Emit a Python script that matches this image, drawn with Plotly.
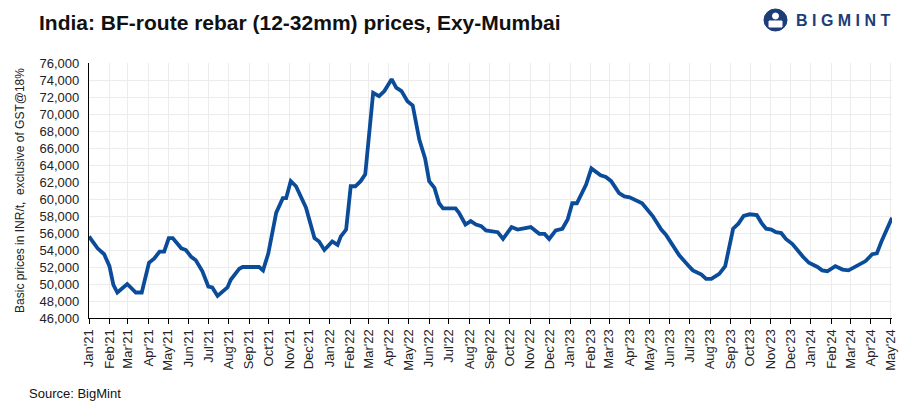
import plotly.graph_objects as go

dates = [
    "2021-01-01", "2021-01-14", "2021-01-24", "2021-02-01", "2021-02-07", "2021-02-13",
    "2021-02-28", "2021-03-13", "2021-03-22", "2021-04-02", "2021-04-10", "2021-04-18",
    "2021-04-25", "2021-05-02", "2021-05-08", "2021-05-21", "2021-05-28", "2021-06-05",
    "2021-06-12", "2021-06-22", "2021-07-01", "2021-07-07", "2021-07-15", "2021-07-30",
    "2021-08-04", "2021-08-17", "2021-08-22", "2021-09-16", "2021-09-22", "2021-09-30",
    "2021-10-12", "2021-10-22", "2021-10-27", "2021-11-03", "2021-11-11", "2021-11-26",
    "2021-12-09", "2021-12-16", "2021-12-24", "2022-01-05", "2022-01-13", "2022-01-18",
    "2022-01-26", "2022-02-02", "2022-02-09", "2022-02-17", "2022-02-24", "2022-03-08",
    "2022-03-17", "2022-03-25", "2022-04-05", "2022-04-12", "2022-04-20", "2022-04-29",
    "2022-05-07", "2022-05-17", "2022-05-26", "2022-06-01", "2022-06-09", "2022-06-16",
    "2022-06-22", "2022-07-11", "2022-07-16", "2022-07-26", "2022-08-03", "2022-08-11",
    "2022-08-19", "2022-08-26", "2022-09-13", "2022-09-21", "2022-10-04", "2022-10-13",
    "2022-11-02", "2022-11-15", "2022-11-23", "2022-11-30", "2022-12-10", "2022-12-20",
    "2022-12-28", "2023-01-04", "2023-01-11", "2023-01-25", "2023-02-02", "2023-02-16",
    "2023-02-24", "2023-03-04", "2023-03-16", "2023-03-24", "2023-04-01", "2023-04-08",
    "2023-04-20", "2023-05-06", "2023-05-19", "2023-05-26", "2023-06-05", "2023-06-15",
    "2023-06-30", "2023-07-06", "2023-07-19", "2023-07-26", "2023-08-03", "2023-08-15",
    "2023-08-24", "2023-09-05", "2023-09-13", "2023-09-21", "2023-09-30", "2023-10-11",
    "2023-10-18", "2023-10-25", "2023-11-02", "2023-11-09", "2023-11-17", "2023-11-24",
    "2023-12-04", "2023-12-12", "2023-12-20", "2023-12-29", "2024-01-11", "2024-01-18",
    "2024-01-26", "2024-02-07", "2024-02-18", "2024-02-27", "2024-03-09", "2024-03-24",
    "2024-04-03", "2024-04-10", "2024-04-17", "2024-05-03",
]
prices = [
    55600, 54200, 53500, 52100, 49900, 49000,
    50000, 49000, 49000, 52500, 53000, 53800,
    53800, 55400, 55400, 54200, 54000, 53200,
    52800, 51500, 49700, 49600, 48600, 49600,
    50500, 51800, 52000, 52000, 51600, 53600,
    58400, 60100, 60100, 62100, 61500, 59000,
    55400, 55000, 54000, 55000, 54600, 55600,
    56400, 61500, 61500, 62100, 62900, 72500,
    72100, 72700, 74100, 73100, 72700, 71500,
    71000, 67000, 64700, 62100, 61300, 59500,
    58900, 58900, 58400, 57000, 57400, 57000,
    56800, 56300, 56100, 55300, 56700, 56400,
    56700, 55900, 55900, 55300, 56300, 56500,
    57600, 59500, 59500, 61700, 63600, 62800,
    62600, 62100, 60700, 60300, 60200, 59900,
    59500, 58000, 56400, 55800, 54600, 53400,
    52100, 51600, 51100, 50600, 50600, 51200,
    52100, 56500, 57100, 58000, 58200, 58100,
    57200, 56500, 56400, 56100, 56000, 55300,
    54700, 53900, 53200, 52500, 52000, 51600,
    51500, 52100, 51700, 51600, 52100, 52700,
    53500, 53600, 55000, 57800,
]

title_text = "India: BF-route rebar (12-32mm) prices, Exy-Mumbai"
y_title = "Basic prices in INR/t,  exclusive of GST@18%"
source_text = "Source: BigMint"
brand_text = "B I G M I N T"
y_min, y_max, y_step = 46000, 76000, 2000
x_start, x_end = "2021-01-01", "2024-05-03"

navy = "#1d3d78"

fig = go.Figure()
fig.add_trace(go.Scatter(
    x=dates, y=prices, mode="lines",
    line=dict(color="#0a4c99", width=3.8),
    hoverinfo="x+y", showlegend=False,
))

fig.update_layout(
    width=913, height=409,
    margin=dict(l=81, r=29, t=55, b=99),
    plot_bgcolor="white", paper_bgcolor="white",
    font=dict(family="Liberation Sans, Arial, sans-serif", color="#222222", size=13),
    xaxis=dict(
        type="date", range=[x_start, x_end],
        dtick="M1", tick0="2021-01-01", tickformat="%b'%y", tickangle=-90,
        showgrid=True, gridcolor="#ececec", gridwidth=1,
        showline=True, linecolor="#000000", linewidth=1.2,
        ticks="outside", ticklen=5, tickcolor="#000000",
        tickfont=dict(size=13, color="#222222"),
        zeroline=False, automargin=False,
    ),
    yaxis=dict(
        range=[y_min, y_max], dtick=y_step, tick0=y_min,
        tickformat=",d",
        showgrid=True, gridcolor="#ececec", gridwidth=1,
        showline=True, linecolor="#000000", linewidth=1.2,
        ticks="", ticklabelstandoff=6,
        tickfont=dict(size=13, color="#222222"),
        title=dict(text=y_title, font=dict(size=12, color="#222222"), standoff=12),
        zeroline=False, automargin=False,
    ),
    annotations=[
        dict(text="<b>" + title_text + "</b>", xref="paper", yref="paper",
             x=-0.0648, y=1.0, xanchor="left", yanchor="middle",
             yshift=41, showarrow=False,
             font=dict(family="Liberation Sans, Arial", size=21, color="#111111")),
        dict(text="<b>" + brand_text + "</b>", xref="paper", yref="paper",
             x=1.0, y=1.0, xanchor="right", yanchor="middle", yshift=43,
             showarrow=False,
             font=dict(family="Liberation Sans, Arial", size=16, color=navy)),
        dict(text=source_text, xref="paper", yref="paper",
             x=-0.0772, y=0, xanchor="left", yanchor="middle", yshift=-75,
             showarrow=False,
             font=dict(family="Liberation Sans, Arial", size=13, color="#111111")),
    ],
    shapes=[
        dict(type="circle", xref="paper", yref="paper",
             xsizemode="pixel", ysizemode="pixel", xanchor=1.0, yanchor=1.0,
             x0=-128, x1=-105, y0=32, y1=54,
             line=dict(color=navy, width=1), fillcolor=navy),
        dict(type="circle", xref="paper", yref="paper",
             xsizemode="pixel", ysizemode="pixel", xanchor=1.0, yanchor=1.0,
             x0=-119.5, x1=-113.5, y0=44, y1=50,
             line=dict(color="white", width=1), fillcolor="white"),
        dict(type="rect", xref="paper", yref="paper",
             xsizemode="pixel", ysizemode="pixel", xanchor=1.0, yanchor=1.0,
             x0=-123, x1=-110, y0=36, y1=42,
             line=dict(color="white", width=1), fillcolor="white"),
    ],
)

fig.write_html("out.html")
